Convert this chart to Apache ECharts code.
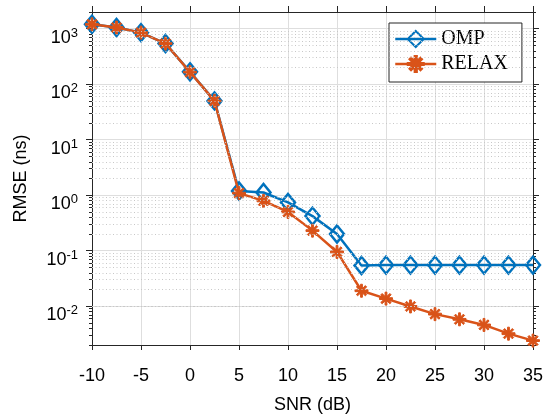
<!DOCTYPE html>
<html>
<head>
<meta charset="utf-8">
<script src="https://cdn.jsdelivr.net/npm/echarts@6/dist/echarts.min.js"></script>
<style>html,body{margin:0;padding:0;background:#fff}#c{width:546px;height:419px}</style>
</head>
<body>
<div id="c"></div>
<script>
const snr = [-10, -7.5, -5, -2.5, 0, 2.5, 5, 7.5, 10, 12.5, 15, 17.5, 20, 22.5, 25, 27.5, 30, 32.5, 35];
const ompRmse = [1200, 1050, 850, 540, 167, 50, 1.19, 1.12, 0.74, 0.42, 0.20, 0.054, 0.055, 0.055, 0.055, 0.055, 0.055, 0.055, 0.055];
const relaxRmse = [1200, 1050, 850, 540, 165, 50, 1.09, 0.79, 0.50, 0.23, 0.095, 0.019, 0.0137, 0.0099, 0.0072, 0.0058, 0.0046, 0.0032, 0.0024];
const xTicks = [-10, -5, 0, 5, 10, 15, 20, 25, 30, 35];
const yDecades = [0.01, 0.1, 1, 10, 100, 1000];
const yMin = 0.002, yMax = 2000;

const minorTickVals = [];
for (let k = -3; k <= 3; k++) {
  for (let m = 2; m <= 9; m++) {
    const v = parseFloat((m * Math.pow(10, k)).toPrecision(3));
    if (v >= yMin && v <= yMax) minorTickVals.push(v);
  }
}
const minorGridVals = minorTickVals.filter(v => v > yMin && v < yMax);

const axisColor = '#262626';
const sans = 'Liberation Sans';
const asterisk = 'path://M8.6,0H11.4V20H8.6Z M0,8.6H20V11.4H0Z M2.1,4.1L4.1,2.1L17.9,15.9L15.9,17.9Z M15.9,2.1L17.9,4.1L4.1,17.9L2.1,15.9Z';

const chart = echarts.init(document.getElementById('c'), null, {renderer: 'canvas'});
const lineOn = {show: true, onZero: false, lineStyle: {color: axisColor, width: 1}};
const lineOff = {show: false, onZero: false};
const baseY = {
  type: 'log', min: yMin, max: yMax, logBase: 10,
  axisLine: lineOff, axisLabel: {show: false}, splitLine: {show: false}
};
chart.setOption({
  animation: false,
  backgroundColor: '#fff',
  grid: {left: 92, right: 13, top: 12, bottom: 73},
  legend: {
    orient: 'vertical', left: 389, top: 23,
    itemWidth: 41, itemHeight: 20, itemGap: 5,
    padding: [6, 14, 8, 5],
    borderColor: axisColor, borderWidth: 1, backgroundColor: '#fff',
    textStyle: {fontFamily: 'Liberation Serif', fontSize: 20, color: '#000'},
    lineStyle: {width: 2.5},
    data: ['OMP', 'RELAX']
  },
  xAxis: [{
    type: 'value', min: -10, max: 35, interval: 5, position: 'bottom',
    name: 'SNR (dB)', nameLocation: 'middle', nameGap: 51,
    nameTextStyle: {fontFamily: sans, fontSize: 18, color: '#000'},
    axisLine: lineOn,
    axisTick: {show: true, inside: false, length: 5, lineStyle: {color: axisColor}},
    axisLabel: {fontFamily: sans, fontSize: 18, color: '#000', margin: 22,
      customValues: xTicks},
    splitLine: {show: true, lineStyle: {color: '#dedede', width: 1}}
  }, {
    type: 'value', min: -10, max: 35, interval: 5, position: 'top',
    axisLine: lineOn,
    axisTick: {show: true, inside: false, length: 6, lineStyle: {color: axisColor}},
    axisLabel: {show: false}, splitLine: {show: false}
  }],
  yAxis: [{
    type: 'log', min: yMin, max: yMax, logBase: 10, position: 'left',
    name: 'RMSE (ns)', nameLocation: 'middle', nameGap: 62,
    nameTextStyle: {fontFamily: sans, fontSize: 18, color: '#000'},
    axisLine: lineOn,
    axisTick: {show: true, inside: false, length: 6, lineStyle: {color: axisColor}, customValues: yDecades},
    axisLabel: {
      margin: 14, customValues: yDecades, padding: [18, 0, 0, 0],
      formatter: v => '{b|10}{e|' + Math.round(Math.log10(v)) + '}',
      rich: {
        b: {fontFamily: sans, fontSize: 18, color: '#000', lineHeight: 18, padding: [11, 0, 0, 0], verticalAlign: 'bottom'},
        e: {fontFamily: sans, fontSize: 13, color: '#000', lineHeight: 13, padding: [0, 0, 7, 0], verticalAlign: 'bottom'}
      }
    },
    splitLine: {show: true, lineStyle: {color: '#dedede', width: 1}}
  },
  Object.assign({}, baseY, {position: 'left',
    axisTick: {show: true, inside: false, length: 3, lineStyle: {color: axisColor}, customValues: minorTickVals}}),
  Object.assign({}, baseY, {position: 'right', axisLine: lineOn,
    axisTick: {show: true, inside: false, length: 6, lineStyle: {color: axisColor}, customValues: yDecades}}),
  Object.assign({}, baseY, {position: 'right',
    axisTick: {show: true, inside: false, length: 3, lineStyle: {color: axisColor}, customValues: minorTickVals}})
  ],
  series: [{
    name: 'minorGrid', type: 'line', data: [], z: 1, silent: true,
    markLine: {
      silent: true, symbol: 'none', animation: false,
      label: {show: false},
      lineStyle: {color: '#c8c8c8', width: 1, type: [1, 2.5]},
      emphasis: {disabled: true},
      data: minorGridVals.map(v => ({yAxis: v}))
    }
  }, {
    name: 'OMP', type: 'line', z: 3,
    data: snr.map((x, i) => [x, ompRmse[i]]),
    symbol: 'diamond', symbolSize: [14, 17],
    lineStyle: {color: '#0072BD', width: 2.5},
    itemStyle: {color: 'rgba(255,255,255,0)', borderColor: '#0072BD', borderWidth: 2.5}
  }, {
    name: 'RELAX', type: 'line', z: 4,
    data: snr.map((x, i) => [x, relaxRmse[i]]),
    symbol: asterisk, symbolSize: 13,
    lineStyle: {color: '#D95319', width: 2.5},
    itemStyle: {color: '#D95319', borderColor: '#D95319', borderWidth: 1}
  }]
});
</script>
</body>
</html>
